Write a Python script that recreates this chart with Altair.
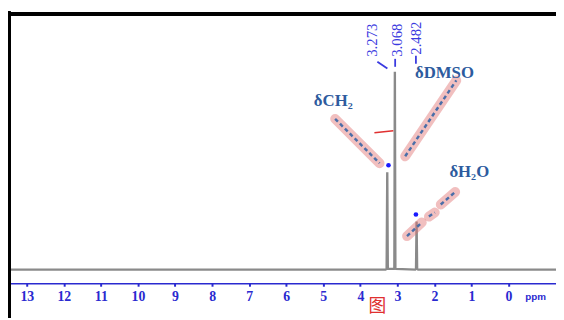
import altair as alt
import pandas as pd

# Spectrum (ppm, intensity)
spec_ppm = [13.48, 3.32, 3.29, 3.273, 3.258, 3.09, 3.082, 3.068, 3.054, 3.04, 2.52, 2.497, 2.482, 2.467, 2.44, -1.28]
spec_int = [0, 0, 0.3, 38.0, 0.3, 0.3, 0.5, 77.2, 0.5, 0.3, 0, 0.3, 18.8, 0.3, 0, 0]

# Peak labels
peak_vals = ["3.273", "3.068", "2.482"]
peak_lab_ppm = [3.67, 3.00, 2.50]
peak_lab_int = [83.0, 83.0, 83.8]

# Connector segments from label to peak
conn_seg = [0, 0, 1, 1, 2, 2]
conn_ppm = [3.54, 3.27, 3.06, 3.06, 2.50, 2.50]
conn_int = [81.1, 78.4, 82.2, 79.1, 83.4, 80.3]

# Annotation labels
ann_text = ["δCH₂", "δDMSO", "δH₂O"]
ann_ppm = [4.73, 1.73, 1.06]
ann_int = [65.7, 76.5, 38.0]

# Dashed highlighted pointer segments
ptr_seg = [0, 0, 1, 1, 2, 2, 3, 3, 4, 4]
ptr_ppm = [4.68, 3.48, 2.79, 1.41, 2.74, 2.34, 2.15, 1.99, 1.83, 1.44]
ptr_int = [58.8, 41.5, 44.2, 73.8, 13.1, 18.4, 20.7, 22.3, 25.4, 30.3]

# Blue dots at peak tops
dot_ppm = [3.24, 2.50]
dot_int = [40.7, 21.5]

# Small red mark
red_ppm = [3.62, 3.11]
red_int = [53.4, 54.2]

ticks = list(range(0, 14))

xs = alt.Scale(domain=[13.48, -1.28], nice=False, zero=False)
ys = alt.Scale(domain=[-5.3, 100], nice=False, zero=False)

spec = pd.DataFrame({"ppm": spec_ppm, "int": spec_int, "i": range(len(spec_ppm))})
peaks = pd.DataFrame({"ppm": peak_lab_ppm, "int": peak_lab_int, "t": peak_vals})
conn = pd.DataFrame({"ppm": conn_ppm, "int": conn_int, "s": conn_seg})
ann = pd.DataFrame({"ppm": ann_ppm, "int": ann_int, "t": ann_text})
ptr = pd.DataFrame({"ppm": ptr_ppm, "int": ptr_int, "s": ptr_seg})
dots = pd.DataFrame({"ppm": dot_ppm, "int": dot_int})
red = pd.DataFrame({"ppm": red_ppm, "int": red_int})
misc = pd.DataFrame({"ppm": [-0.45, 3.54], "int": [-10.5, -14.5], "t": ["ppm", "图"]})

X = alt.X("ppm:Q", scale=xs, axis=alt.Axis(
    values=ticks, format="d", title=None, grid=False,
    domainColor="#2a2ad0", domainWidth=1.5, tickColor="#2a2ad0", tickSize=3, tickWidth=2,
    labelFont="Liberation Serif", labelFontWeight="bold", labelFontSize=14,
    labelColor="#2a2ad0", labelPadding=3))
Y = alt.Y("int:Q", scale=ys, axis=None)

line = alt.Chart(spec).mark_line(color="#8a8a8a", strokeWidth=2.4, clip=True).encode(
    x=X, y=Y, order="i:Q")

frame_left = alt.Chart(spec).mark_rule(color="black", strokeWidth=3).encode(
    x=alt.value(0), y=alt.value(-1.5), y2=alt.value(309))
frame_top = alt.Chart(spec).mark_rule(color="black", strokeWidth=3).encode(
    x=alt.value(-1.5), x2=alt.value(560), y=alt.value(0.5))

plab = alt.Chart(peaks).mark_text(angle=270, align="left", baseline="middle",
                                   font="Liberation Serif", fontSize=15, color="#3a3ae0").encode(
    x=alt.X("ppm:Q", scale=xs), y=alt.Y("int:Q", scale=ys), text="t:N")

cline = alt.Chart(conn).mark_line(color="#3a3ae0", strokeWidth=1.8).encode(
    x=alt.X("ppm:Q", scale=xs), y=alt.Y("int:Q", scale=ys), detail="s:N")

glow = alt.Chart(ptr).mark_line(color="#e07070", strokeWidth=10, opacity=0.45, strokeCap="round").encode(
    x=alt.X("ppm:Q", scale=xs), y=alt.Y("int:Q", scale=ys), detail="s:N")
dash = alt.Chart(ptr).mark_line(color="#4a6ea8", strokeWidth=2.5, strokeDash=[4, 3]).encode(
    x=alt.X("ppm:Q", scale=xs), y=alt.Y("int:Q", scale=ys), detail="s:N")

annl = alt.Chart(ann).mark_text(font="Liberation Serif", fontWeight="bold", fontSize=17,
                                 color="#2d5b9e", baseline="middle").encode(
    x=alt.X("ppm:Q", scale=xs), y=alt.Y("int:Q", scale=ys), text="t:N")

dotl = alt.Chart(dots).mark_point(filled=True, color="#1a1aff", size=22, opacity=1).encode(
    x=alt.X("ppm:Q", scale=xs), y=alt.Y("int:Q", scale=ys))

redl = alt.Chart(red).mark_line(color="#e03030", strokeWidth=1.6).encode(
    x=alt.X("ppm:Q", scale=xs), y=alt.Y("int:Q", scale=ys))

ppm_t = alt.Chart(misc.iloc[[0]]).mark_text(align="left", baseline="middle", font="Liberation Sans",
                                             fontWeight="bold", fontSize=10, color="#2a2ad0").encode(
    x=alt.X("ppm:Q", scale=xs), y=alt.Y("int:Q", scale=ys), text="t:N")
cjk = alt.Chart(misc.iloc[[1]]).mark_text(baseline="middle", font="Noto Sans CJK SC",
                                           fontSize=18, color="#e03030").encode(
    x=alt.X("ppm:Q", scale=xs), y=alt.Y("int:Q", scale=ys), text="t:N")

chart = alt.layer(line, glow, dash, cline, plab, annl, dotl, redl, ppm_t, cjk,
                  frame_left, frame_top).properties(
    width=555, height=274,
    autosize=alt.AutoSizeParams(type="none"),
    padding={"left": 1, "top": 3, "right": 0, "bottom": 35},
).configure_view(stroke=None)

chart.save("out.html", embed_options={"renderer": "svg", "actions": False})
